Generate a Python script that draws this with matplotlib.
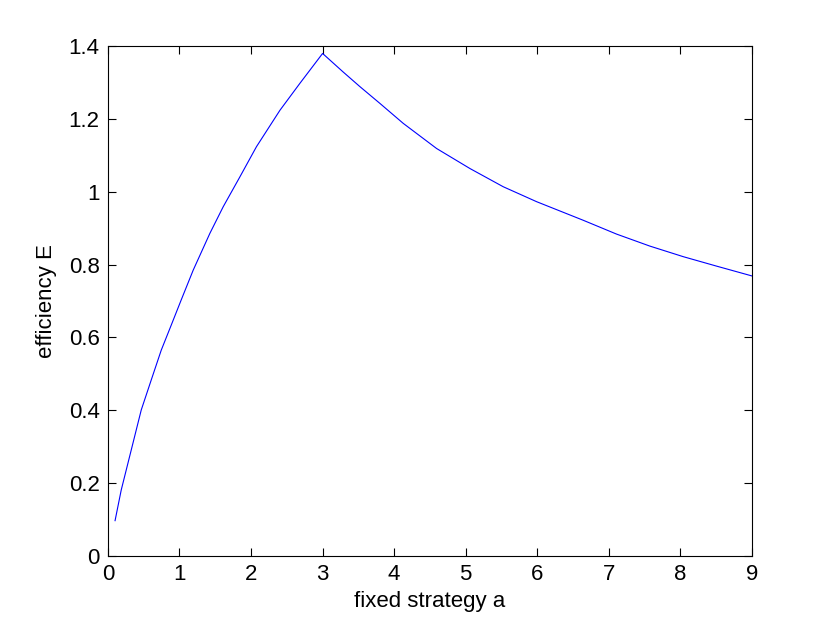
import matplotlib
matplotlib.use('Agg')
import matplotlib.pyplot as plt

# Values.
a_values = [0.1, 0.186, 0.349, 0.466, 0.605, 0.745, 0.885, 1.024, 1.192, 1.425,
            1.611, 1.844, 2.076, 2.404, 2.683, 3.0, 3.288, 3.521, 3.8, 4.127,
            4.593, 5.059, 5.524, 5.99, 6.641, 7.107, 7.573, 8.039, 8.505, 9.0]
efficiency = [0.097, 0.181, 0.309, 0.401, 0.483, 0.565, 0.634, 0.703, 0.785, 0.886,
              0.959, 1.041, 1.124, 1.224, 1.298, 1.380, 1.329, 1.289, 1.243, 1.188,
              1.119, 1.064, 1.014, 0.973, 0.922, 0.884, 0.851, 0.822, 0.796, 0.769]

x_ticks = [0, 1, 2, 3, 4, 5, 6, 7, 8, 9]
y_ticks = [0, 0.2, 0.4, 0.6, 0.8, 1.0, 1.2, 1.4]
y_tick_labels = ['0', '0.2', '0.4', '0.6', '0.8', '1', '1.2', '1.4']

plt.rcParams['font.family'] = ['Liberation Sans', 'DejaVu Sans']

fig = plt.figure(figsize=(8.3, 6.24), dpi=100)
ax = fig.add_axes([0.130, 0.109, 0.776, 0.817])
ax.plot(a_values, efficiency, color='#0000ff', linewidth=0.8)

ax.set_xlim(0, 9)
ax.set_ylim(0, 1.4)
ax.set_xticks(x_ticks)
ax.set_yticks(y_ticks)
ax.set_yticklabels(y_tick_labels)
ax.tick_params(direction='in', top=True, right=True, length=6, width=0.8, labelsize=16, pad=6)
for spine in ax.spines.values():
    spine.set_linewidth(0.8)

ax.set_xlabel('fixed strategy a', fontsize=16, labelpad=4)
ax.set_ylabel('efficiency E', fontsize=16, labelpad=8)

fig.savefig('out.png', dpi=100)
